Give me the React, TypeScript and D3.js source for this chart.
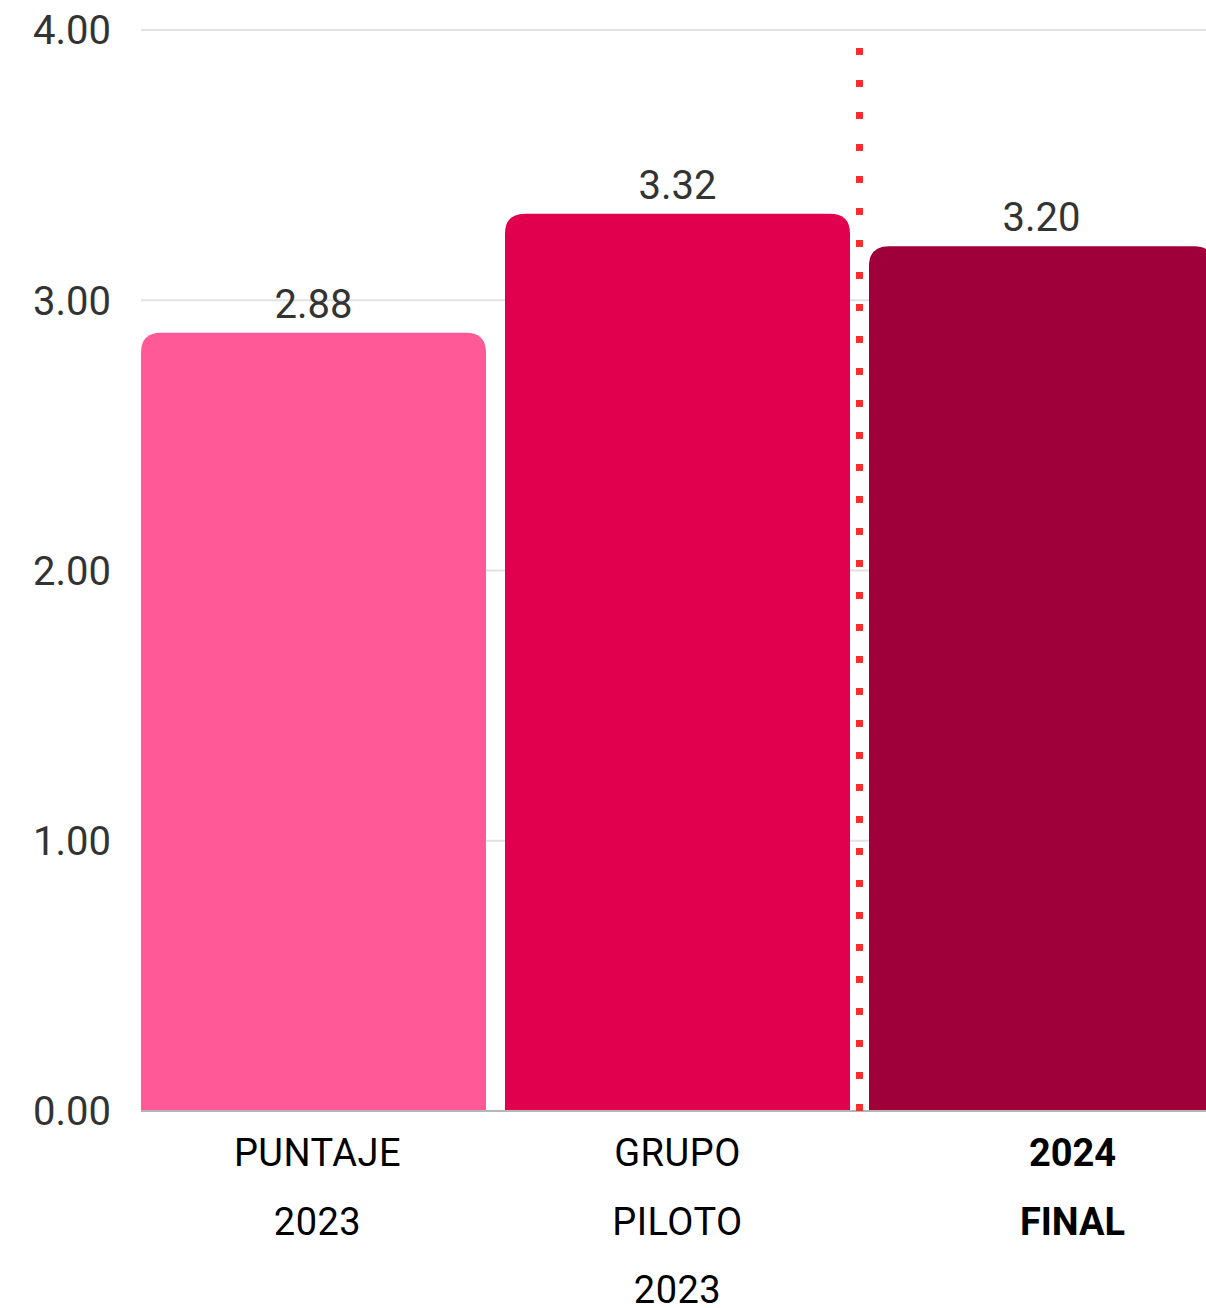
import React from "react";
import * as d3 from "d3";

const categories = ["PUNTAJE 2023", "GRUPO PILOTO 2023", "2024 FINAL"];
const labelLines = [["PUNTAJE", "2023"], ["GRUPO", "PILOTO", "2023"], ["2024", "FINAL"]];
const values = [2.88, 3.32, 3.2];
const colors = ["#FF5A97", "#E0004E", "#A0003A"];
const yTicks = [0, 1, 2, 3, 4];

const W = 1206;
const H = 1308;
const FONT = "Roboto, 'Noto Sans', sans-serif";

export default function App() {
  const x = d3.scaleBand<string>().domain(categories).range([141, 1214]).paddingInner(19 / 364).paddingOuter(0);
  const y = d3.scaleLinear().domain([0, 4]).range([1111, 30]);
  const bw = x.bandwidth();
  const r = 20;
  const barPath = (x0: number, y0: number, w: number, h: number) => {
    const rr = Math.min(r, h, w / 2);
    return `M${x0},${y0 + h}V${y0 + rr}Q${x0},${y0} ${x0 + rr},${y0}H${x0 + w - rr}Q${x0 + w},${y0} ${x0 + w},${y0 + rr}V${y0 + h}Z`;
  };
  const sepX = ((x(categories[1]) as number) + bw + (x(categories[2]) as number)) / 2;
  const labelShift = [4, 0, 31];
  return (
    <svg width={W} height={H} style={{ position: "absolute", left: 0, top: 0, background: "#fff" }} fontFamily={FONT}>
      {yTicks.map((t) => (
        <g key={t}>
          {t > 0 && <line x1={141} x2={W} y1={y(t)} y2={y(t)} stroke="#e2e2e2" strokeWidth={2} />}
          <text x={111} y={y(t)} dy="0.36em" textAnchor="end" fontSize={40} fill="#333">
            {d3.format(".2f")(t)}
          </text>
        </g>
      ))}
      {categories.map((c, i) => {
        const x0 = x(c) as number;
        const yv = y(values[i]);
        return (
          <g key={c}>
            <path d={barPath(x0, yv, bw, y(0) - yv)} fill={colors[i]} />
            <text x={x0 + bw / 2} y={yv - 15} textAnchor="middle" fontSize={40} fill="#333">
              {d3.format(".2f")(values[i])}
            </text>
          </g>
        );
      })}
      <line x1={141} x2={W} y1={y(0)} y2={y(0)} stroke="#b5b5b5" strokeWidth={2} />
      <line x1={sepX} x2={sepX} y1={48} y2={y(0)} stroke="#FF2E2E" strokeWidth={7} strokeDasharray="7 25" />
      {categories.map((c, i) => {
        const isLast = i === categories.length - 1;
        const cx = (x(c) as number) + bw / 2 + labelShift[i];
        return labelLines[i].map((ln, j) => (
          <text
            key={c + j}
            x={cx}
            y={1166 + j * 68.5}
            textAnchor="middle"
            fontSize={38}
            fontWeight={isLast ? 700 : 400}
            fill="#000"
            letterSpacing={isLast ? 0 : 0.5}
          >
            {ln}
          </text>
        ));
      })}
    </svg>
  );
}
